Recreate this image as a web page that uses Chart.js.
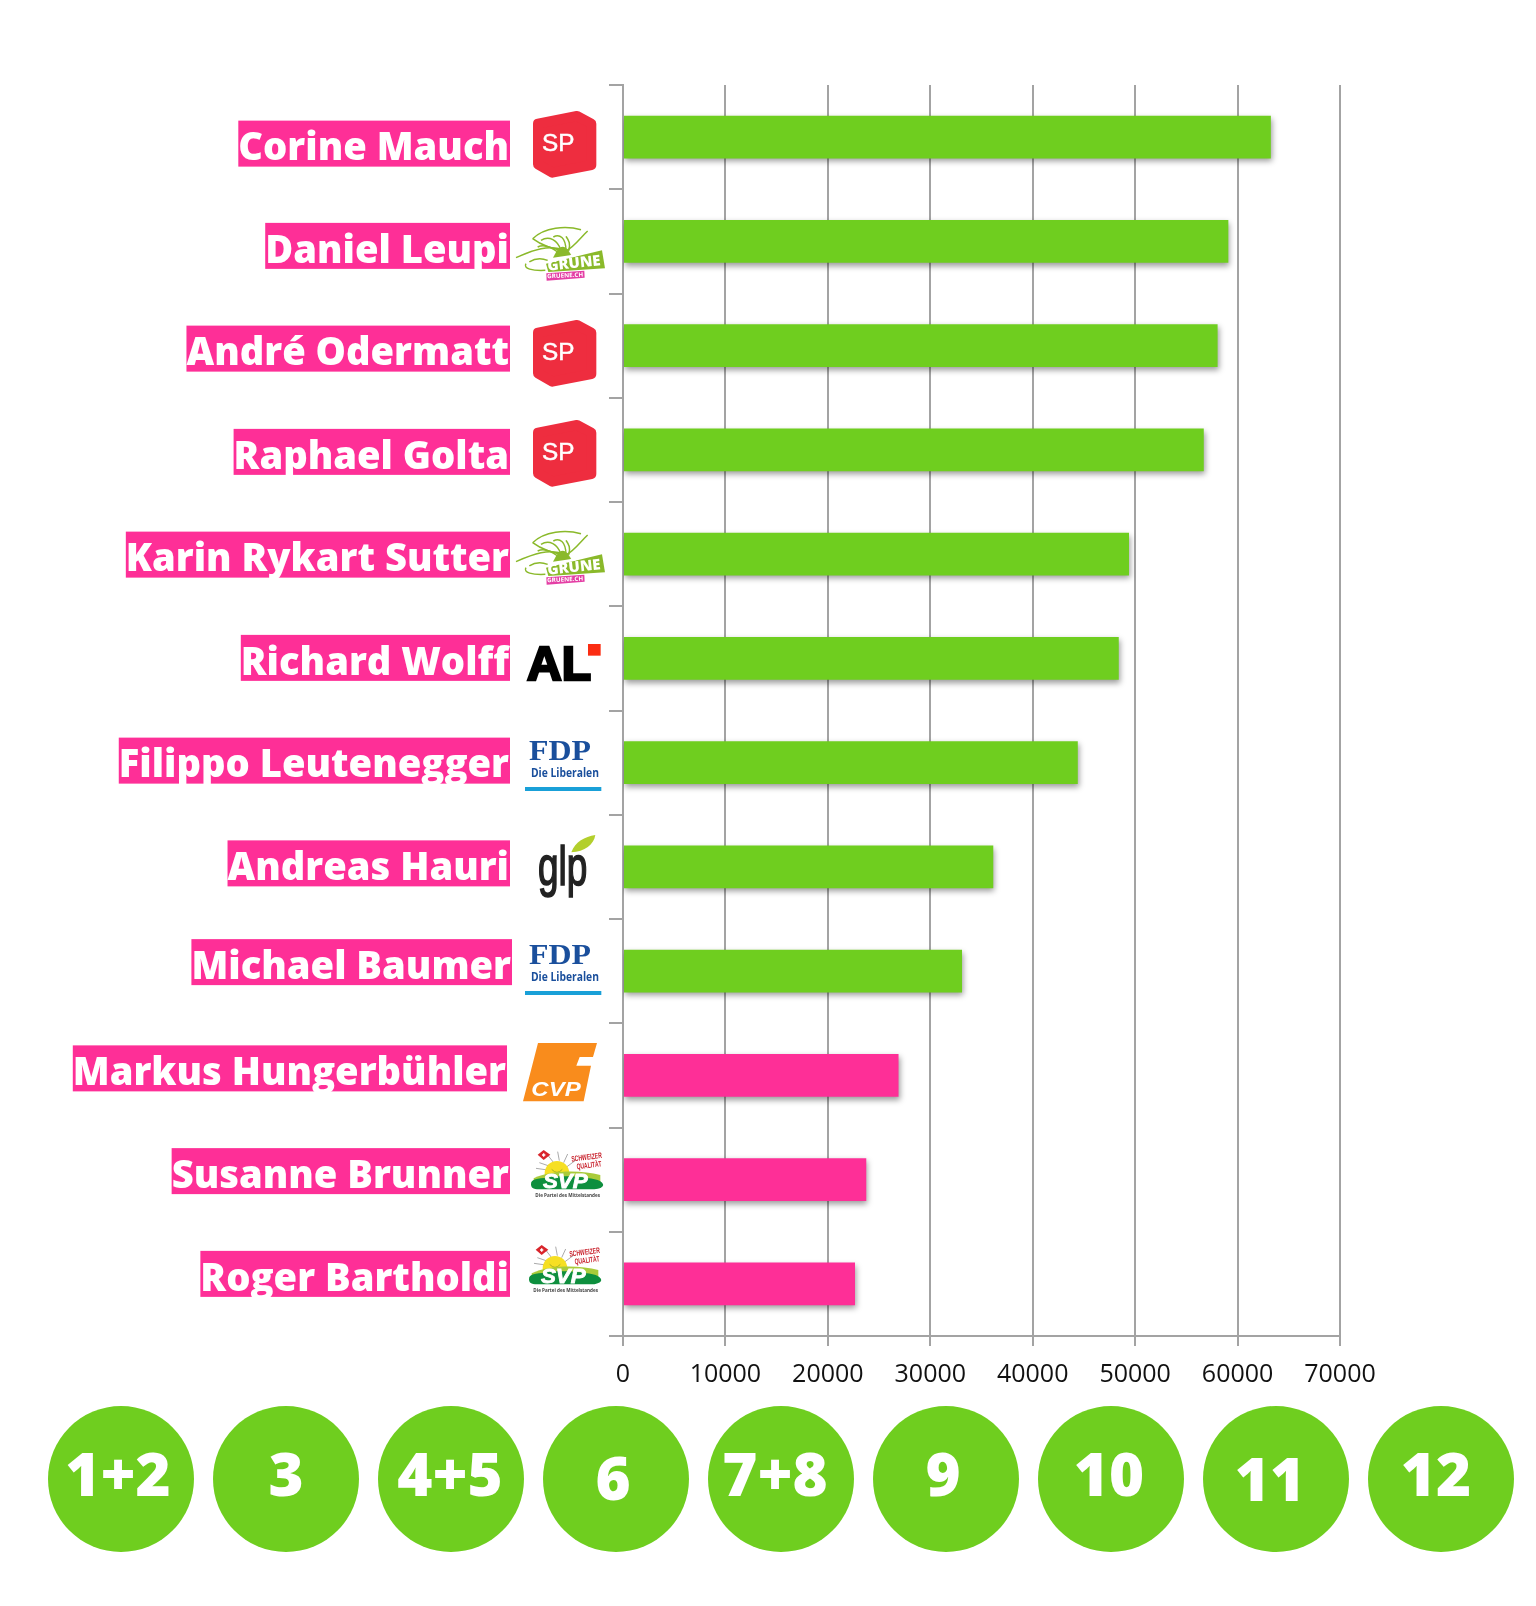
<!DOCTYPE html>
<html>
<head>
<meta charset="utf-8">
<title>Stadtrat</title>
<script src="https://cdn.jsdelivr.net/npm/chart.js@4"></script>
<style>
    html, body { margin: 0; background: #fff; }
    #wrap { position: relative; width: 1536px; height: 1606px; overflow: hidden; }
    #chart, #logos { position: absolute; left: 0; top: 0; }
    .circle {
        position: absolute; width: 146px; height: 146px; top: 1406px; border-radius: 50%;
        background: #6fce1f;
    }
    .circle span {
        position: absolute; left: 0; width: 146px; text-align: center; color: #fff;
        font: 800 60px/60px "Open Sans", sans-serif;
    }
</style>
</head>
<body>
<div id="wrap">
    <canvas id="chart" width="1536" height="1606"></canvas>
    <svg id="logos" width="1536" height="1606" xmlns="http://www.w3.org/2000/svg">
        <defs>
            <g id="logo-SP" transform="scale(.3333)">
                <path d="M15 38 L132 15 L175 38 V162 L58 185 L15 160 Z" fill="#ee2d3f" stroke="#ee2d3f" stroke-width="30" stroke-linejoin="round"/>
                <text x="27" y="120" font-family="Liberation Sans" font-size="73" fill="#fff" stroke="#fff" stroke-width="1.5">SP</text>
            </g>
            <g id="logo-GRUENE" transform="scale(.3333)">
                <g fill="none" stroke="#8ab92a" stroke-width="4.5">
                    <path d="M50 35 C85 0 150 -5 195 8"/>
                    <path d="M0 92 C50 70 100 50 150 72 C175 60 195 30 215 12"/>
                    <path d="M50 35 C70 50 100 65 150 72"/>
                    <path d="M75 40 C100 25 125 40 135 70"/>
                    <path d="M30 110 C20 125 50 132 88 130"/>
                    <path d="M40 105 C55 95 75 92 95 100"/>
                    <path d="M112 30 C130 20 150 30 150 72"/>
                    <path d="M65 60 C85 50 105 60 125 75"/>
                    <path d="M150 28 C158 40 165 50 158 72"/>
                </g>
                <path d="M122 72 q18 -25 36 0 l8 12 l-55 8 z" fill="#8ab92a"/>
                <path d="M90 110 L258 70 L267 124 L97 135 Z" fill="#8ab92a"/>
                <text x="96" y="131" font-family="Open Sans" font-weight="800" font-size="44" fill="#fff" textLength="160" lengthAdjust="spacingAndGlyphs" transform="rotate(-6 96 131)">GRÜNE</text>
                <path d="M91 139 L205 131 L206 152 L92 161 Z" fill="#e43fa5"/>
                <text x="94" y="154" font-family="Open Sans" font-weight="700" font-size="18" fill="#fff" textLength="108" lengthAdjust="spacingAndGlyphs" transform="rotate(-3 94 154)">GRUENE.CH</text>
            </g>
            <g id="logo-AL" transform="scale(.3333)">
                <text x="0" y="110" font-family="Liberation Sans" font-weight="700" font-size="145" fill="#000" stroke="#000" stroke-width="8" textLength="192" lengthAdjust="spacingAndGlyphs">AL</text>
                <rect x="183" y="3" width="38" height="35" fill="#fb2c12"/>
            </g>
            <g id="logo-FDP" transform="scale(.3333)">
                <text x="12" y="60" font-family="Liberation Serif" font-weight="700" font-size="86" fill="#1a4f9c" textLength="186" lengthAdjust="spacingAndGlyphs">FDP</text>
                <text x="18" y="112" font-family="Open Sans" font-weight="700" font-size="35" fill="#1a4f9c" textLength="204" lengthAdjust="spacingAndGlyphs">Die Liberalen</text>
                <rect x="0" y="141" width="229" height="12" fill="#19a0d8"/>
            </g>
            <g id="logo-glp" transform="scale(.3333)">
                <text x="0" y="150" font-family="Liberation Sans" font-size="168" fill="#222" stroke="#222" stroke-width="5" textLength="148" lengthAdjust="spacingAndGlyphs">glp</text>
                <path d="M100 52 C112 20 140 5 172 0 C168 28 140 50 100 52 Z" fill="#b3cf2c"/>
            </g>
            <g id="logo-CVP" transform="scale(.3333)">
                <path d="M45 0 H222 L210 42 H170 L160 68 H204 L182 175 H0 Z" fill="#f98c1c"/>
                <text x="25" y="160" font-family="Liberation Sans" font-weight="700" font-style="italic" font-size="60" fill="#fff" textLength="148" lengthAdjust="spacingAndGlyphs">CVP</text>
            </g>
            <g id="logo-SVP" transform="scale(.3333)">
                <g stroke="#aaa" stroke-width="3">
                    <path d="M60 50 L25 38 M68 38 L50 15 M85 32 L80 5 M98 38 L110 12 M108 50 L135 30 M50 60 L15 55"/>
                </g>
                <circle cx="78" cy="70" r="37" fill="#f6df23"/>
                <path d="M62 58 q16 18 32 0" fill="none" stroke="#7a9a1e" stroke-width="2"/>
                <path d="M20 14 L38 0 L58 14 L38 30 Z" fill="#d9252c"/>
                <path d="M33 15 h10 M38 10 v10" stroke="#fff" stroke-width="4"/>
                <path d="M8 85 C60 60 150 60 208 75 L208 100 H8 Z" fill="#a9cb3a"/>
                <path d="M0 103 C0 85 20 88 50 82 C100 75 170 82 200 90 C225 100 222 115 190 118 H25 C5 118 0 112 0 103 Z" fill="#0e8f3e"/>
                <text x="36" y="114" font-family="Liberation Sans" font-weight="700" font-style="italic" font-size="62" fill="#fff" stroke="#fff" stroke-width="2.5" textLength="134" lengthAdjust="spacingAndGlyphs">SVP</text>
                <text x="122" y="35" font-family="Liberation Sans" font-weight="700" font-size="24" fill="#c8202b" textLength="92" lengthAdjust="spacingAndGlyphs" transform="rotate(-7 122 35)">SCHWEIZER</text>
                <text x="138" y="58" font-family="Liberation Sans" font-weight="700" font-size="24" fill="#c8202b" textLength="75" lengthAdjust="spacingAndGlyphs" transform="rotate(-7 138 58)">QUALITÄT</text>
                <text x="13" y="141" font-family="Open Sans" font-weight="700" font-size="13" fill="#444" textLength="194" lengthAdjust="spacingAndGlyphs">Die Partei des Mittelstandes</text>
            </g>
        </defs>
        <g id="logo-row"></g>
    </svg>
</div>
<script>
const candidates = ['Corine Mauch', 'Daniel Leupi', 'André Odermatt', 'Raphael Golta', 'Karin Rykart Sutter', 'Richard Wolff',
    'Filippo Leutenegger', 'Andreas Hauri', 'Michael Baumer', 'Markus Hungerbühler', 'Susanne Brunner', 'Roger Bartholdi'];
const votes = [63250, 59100, 58050, 56700, 49400, 48400, 44400, 36150, 33100, 26900, 23750, 22650];
const elected = [true, true, true, true, true, true, true, true, true, false, false, false];
const parties = ['SP', 'GRUENE', 'SP', 'SP', 'GRUENE', 'AL', 'FDP', 'glp', 'FDP', 'CVP', 'SVP', 'SVP'];
const xTicks = [0, 10000, 20000, 30000, 40000, 50000, 60000, 70000];
const circleLabels = ['1+2', '3', '4+5', '6', '7+8', '9', '10', '11', '12'];

const GREEN = '#6fce1f';
const PINK = '#fe2f97';

// hand placed, the labels and logos in the original are not quite on the grid
const labelShift = [6.5, 4.5, 3, 2, 0.5, -0.5, -2, -3.5, -9, -7, -8.5, -10];
const labelRight = [510, 510, 510, 510, 510, 510, 510, 510, 512, 507, 510, 510];
const logoSpots = [[533, 111], [516, 227], [533, 320], [533, 420], [516, 531], [527, 643], [525, 740], [538, 835], [525, 944], [523, 1043], [531, 1150], [529, 1245]];
const circleLeft = [48, 213, 378, 543, 708, 873, 1038, 1203, 1368];
const circleTextTop = [37, 37, 37, 41, 37, 37, 37, 42, 37];
const circleTextShift = [-3, 0, -1, -3, -6, -3, -2, -6, -5];

// party logos
const logoRow = document.getElementById('logo-row');
parties.forEach((party, i) => {
    const use = document.createElementNS('http://www.w3.org/2000/svg', 'use');
    use.setAttribute('href', `#logo-${party}`);
    use.setAttribute('x', logoSpots[i][0]);
    use.setAttribute('y', logoSpots[i][1]);
    logoRow.appendChild(use);
});

// numbered circles under the chart
const wrap = document.getElementById('wrap');
circleLabels.forEach((label, i) => {
    const circle = document.createElement('div');
    circle.className = 'circle';
    circle.style.left = circleLeft[i] + 'px';
    circle.innerHTML = `<span style="top:${circleTextTop[i]}px;margin-left:${circleTextShift[i]}px">${label}</span>`;
    wrap.appendChild(circle);
});

const barShadow = {
    id: 'barShadow',
    beforeDatasetsDraw(chart) {
        const ctx = chart.ctx;
        ctx.save();
        ctx.shadowColor = 'rgba(0,0,0,0.4)';
        ctx.shadowBlur = 6;
        ctx.shadowOffsetX = 1;
        ctx.shadowOffsetY = 3;
    },
    afterDatasetsDraw(chart) {
        chart.ctx.restore();
    }
};

// names on pink blocks, same rows as the y axis
const nameBlocks = {
    id: 'nameBlocks',
    afterDraw(chart) {
        const ctx = chart.ctx;
        const yScale = chart.scales.y;
        ctx.save();
        ctx.font = '800 38.15px "Open Sans", sans-serif';
        ctx.textAlign = 'right';
        ctx.textBaseline = 'middle';
        candidates.forEach((name, i) => {
            const y = yScale.getPixelForValue(i) + labelShift[i];
            const w = ctx.measureText(name).width;
            ctx.fillStyle = PINK;
            ctx.fillRect(labelRight[i] - w - 1, y - 23, w + 1, 46);
            ctx.fillStyle = '#fff';
            ctx.fillText(name, labelRight[i] - 1, y + 6);
        });
        ctx.restore();
    }
};

new Chart(document.getElementById('chart'), {
    type: 'bar',
    data: {
        labels: candidates,
        datasets: [{
            data: votes,
            backgroundColor: elected.map(e => e ? GREEN : PINK),
            barPercentage: 0.41,
            categoryPercentage: 1
        }]
    },
    options: {
        indexAxis: 'y',
        responsive: false,
        animation: false,
        layout: { padding: { left: 609, right: 196, top: 85, bottom: 210 } },
        plugins: { legend: { display: false }, tooltip: { enabled: false } },
        scales: {
            x: {
                min: 0,
                max: 70000,
                afterBuildTicks(scale) { scale.ticks = xTicks.map(value => ({ value })); },
                afterFit(scale) { scale.height = 60; },
                grid: { color: '#a3a3a3', lineWidth: 2, tickLength: 10 },
                border: { color: '#a3a3a3', width: 2 },
                ticks: {
                    color: '#111',
                    maxRotation: 0,
                    autoSkip: false,
                    padding: 14,
                    callback: value => String(value),
                    font: { family: '"Open Sans", sans-serif', size: 25 }
                }
            },
            y: {
                grid: { color: '#a3a3a3', lineWidth: 2, tickLength: 14, drawOnChartArea: false },
                border: { color: '#a3a3a3', width: 2 },
                ticks: { display: false }
            }
        }
    },
    plugins: [barShadow, nameBlocks]
});
</script>
</body>
</html>
